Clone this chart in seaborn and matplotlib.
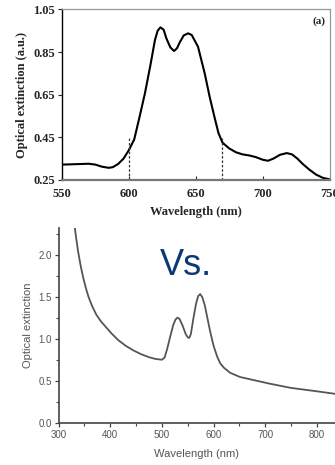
import numpy as np
import pandas as pd
import matplotlib
matplotlib.use("Agg")
import matplotlib.pyplot as plt
import seaborn as sns
from matplotlib.ticker import MultipleLocator

# ---- data: top panel ----
wl_a = [550, 560, 570, 575, 580, 585, 588, 592, 596, 600, 604, 608, 612, 616,
        619.5, 621.5, 623.6, 626, 628, 631, 633.8, 636, 638, 641, 644.3, 647,
        651.7, 656.7, 660.4, 664.2, 667, 670, 675, 680, 685, 690, 695, 700,
        704, 708, 713, 718, 722, 726, 730, 735, 740, 745, 750]
ext_a = [0.322, 0.324, 0.326, 0.322, 0.312, 0.307, 0.31, 0.325, 0.35, 0.39,
         0.44, 0.546, 0.656, 0.785, 0.906, 0.95, 0.966, 0.955, 0.915, 0.872,
         0.855, 0.868, 0.895, 0.928, 0.938, 0.93, 0.875, 0.75, 0.64, 0.54, 0.47,
         0.425, 0.398, 0.38, 0.37, 0.365, 0.357, 0.345, 0.34, 0.35, 0.368,
         0.376, 0.37, 0.35, 0.325, 0.298, 0.275, 0.26, 0.253]
dash_x = [600, 670]
dash_top = [0.45, 0.45]
yticks_a = [0.25, 0.45, 0.65, 0.85, 1.05]
xticks_a = [550, 600, 650, 700, 750]

# ---- data: bottom panel ----
wl_b = [329, 333, 338, 343, 348, 353, 358, 365, 373, 382, 392, 402, 415, 430,
        445, 460, 475, 487, 500, 505, 510, 516, 522, 526, 530, 534, 540, 546,
        550, 553, 556, 561, 566, 570, 574, 578, 583, 588, 593, 600, 607, 613,
        620, 632, 651, 680, 709, 750, 800, 835]
ext_b = [2.45, 2.24, 2.03, 1.86, 1.72, 1.60, 1.50, 1.39, 1.29, 1.21, 1.14,
         1.07, 0.99, 0.92, 0.865, 0.82, 0.785, 0.765, 0.755, 0.78, 0.88, 1.03,
         1.17, 1.23, 1.255, 1.24, 1.16, 1.06, 1.02, 1.015, 1.06, 1.25, 1.42,
         1.51, 1.535, 1.50, 1.40, 1.25, 1.10, 0.92, 0.79, 0.71, 0.66, 0.60,
         0.55, 0.51, 0.47, 0.42, 0.38, 0.35]
xticks_b = [300, 400, 500, 600, 700, 800]
yticks_b = [0.0, 0.5, 1.0, 1.5, 2.0]

sns.set_style("ticks")
plt.rcParams['font.family'] = ['Liberation Serif', 'DejaVu Serif']

fig = plt.figure(figsize=(3.35, 4.65), dpi=100)

# ---- top panel ----
ax1 = fig.add_axes([0.185, 0.613, 0.7986, 0.3667])
dfa = pd.DataFrame({"wl": wl_a, "ext": ext_a})
sns.lineplot(data=dfa, x="wl", y="ext", ax=ax1, color="black", lw=1.5)
for xv, yt in zip(dash_x, dash_top):
    ax1.plot([xv, xv], [0.25, yt], ls=(0, (2, 1.5)), color="#333333", lw=0.9)
ax1.set_xlim(550, 750)
ax1.set_ylim(0.25, 1.05)
ax1.set_xticks(xticks_a)
ax1.set_yticks(yticks_a)
ax1.set_xticklabels([str(v) for v in xticks_a], fontweight="bold", fontsize=9)
ax1.set_yticklabels([f"{v:.2f}" for v in yticks_a], fontweight="bold", fontsize=9)
ax1.tick_params(axis="x", direction="in", length=3, width=0.8, pad=6)
ax1.tick_params(axis="y", direction="out", length=3, width=0.8, pad=2)
ax1.set_xlabel("Wavelength (nm)", fontweight="bold", fontsize=9, labelpad=4)
ax1.set_ylabel("Optical extinction (a.u.)", fontweight="bold", fontsize=9, labelpad=4)
for s in ["top", "right"]:
    ax1.spines[s].set_color("#999999")
    ax1.spines[s].set_linewidth(0.9)
ax1.spines["left"].set_color("black")
ax1.spines["left"].set_linewidth(1.0)
ax1.spines["bottom"].set_color("#777777")
ax1.spines["bottom"].set_linewidth(1.6)
ax1.text(0.985, 0.93, "(a)", transform=ax1.transAxes, ha="right", va="center",
         fontweight="bold", fontsize=8)

# ---- bottom panel ----
sans = ['Liberation Sans', 'DejaVu Sans']
ax2 = fig.add_axes([0.175, 0.0897, 0.825, 0.42])
dfb = pd.DataFrame({"wl": wl_b, "ext": ext_b})
sns.lineplot(data=dfb, x="wl", y="ext", ax=ax2, color="#555555", lw=1.3)
ax2.set_xlim(300, 835)
ax2.set_ylim(0, 2.32)
ax2.set_xticks(xticks_b)
ax2.set_yticks(yticks_b)
ax2.xaxis.set_minor_locator(MultipleLocator(50))
ax2.yaxis.set_minor_locator(MultipleLocator(0.25))
ax2.set_xticklabels([str(v) for v in xticks_b], fontsize=7, family=sans, color="#555555")
ax2.set_yticklabels([f"{v:.1f}" for v in yticks_b], fontsize=7, family=sans, color="#555555")
ax2.tick_params(axis="both", which="major", direction="out", length=3, width=0.9,
                color="#444444", pad=2)
ax2.tick_params(axis="both", which="minor", direction="out", length=2, width=0.8,
                color="#444444")
ax2.set_xlabel("Wavelength (nm)", fontsize=8, family=sans, color="#555555", labelpad=6)
ax2.set_ylabel("Optical extinction", fontsize=8, family=sans, color="#555555", labelpad=4)
for s in ["top", "right"]:
    ax2.spines[s].set_visible(False)
for s in ["left", "bottom"]:
    ax2.spines[s].set_color("#444444")
    ax2.spines[s].set_linewidth(1.2)

fig.text(0.555, 0.43, "Vs.", fontsize=26, color="#0d3878", family=sans,
         ha="center", va="center")

fig.savefig("out.png", dpi=100)
